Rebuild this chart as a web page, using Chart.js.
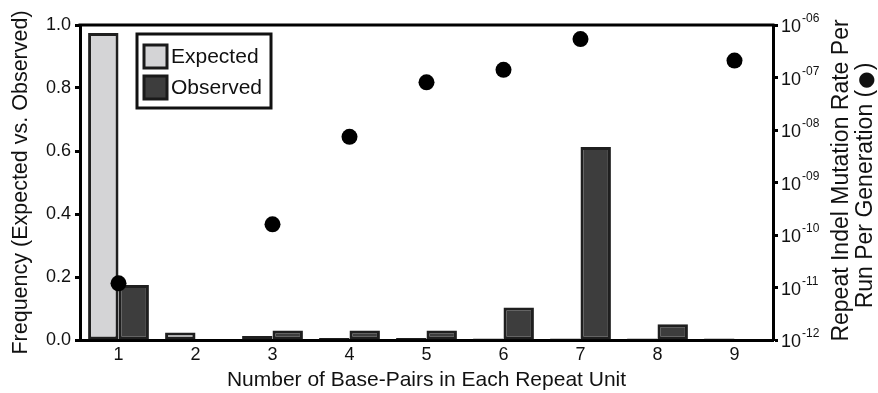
<!DOCTYPE html>
<html>
<head>
<meta charset="utf-8">
<script src="https://cdn.jsdelivr.net/npm/chart.js@4.4.1/dist/chart.umd.min.js"></script>
<style>
  html, body { margin: 0; padding: 0; background: #fff; }
  #wrap { width: 878px; height: 393px; position: relative; }
</style>
</head>
<body>
<div id="wrap"><canvas id="repeatChart"></canvas></div>
<script>
// categories: repeat unit length in base pairs
var unitLabels = ['1', '2', '3', '4', '5', '6', '7', '8', '9'];
// frequency of repeat units (left axis)
var expectedFreq = [0.975, 0.024, 0.013, 0.006, 0.006, 0.005, 0.005, 0.005, 0.005];
var observedFreq = [0.175, 0.0, 0.03, 0.03, 0.03, 0.103, 0.613, 0.05, 0.002];
// repeat indel mutation rate per run per generation (right axis, log)
var mutationRate = [1.2e-11, null, 1.6e-10, 7.4e-9, 8.1e-8, 1.4e-7, 5.4e-7, null, 2.1e-7];
// right axis tick exponents
var rateExps = [-12, -11, -10, -9, -8, -7, -6];
var leftTicks = [0, 0.2, 0.4, 0.6, 0.8, 1.0];

var FONT = '"Liberation Sans", Arial, sans-serif';

var framePlugin = {
  id: 'frame',
  afterDraw: function (chart) {
    var ctx = chart.ctx;
    var a = chart.chartArea;
    ctx.save();
    // top border of the box
    ctx.strokeStyle = '#000';
    ctx.lineWidth = 3;
    ctx.beginPath();
    ctx.moveTo(a.left - 1.5, a.top);
    ctx.lineTo(a.right + 1.5, a.top);
    ctx.stroke();

    // right axis labels 10^-xx
    var y2 = chart.scales.y2;
    ctx.fillStyle = '#111';
    ctx.textBaseline = 'alphabetic';
    ctx.textAlign = 'left';
    rateExps.forEach(function (e) {
      var py = y2.getPixelForValue(Math.pow(10, e));
      ctx.font = '18px ' + FONT;
      ctx.fillText('10', a.right + 8, py + 7);
      var w = ctx.measureText('10').width;
      ctx.font = '12px ' + FONT;
      var s = (e < 0 ? '-' : '') + ('0' + Math.abs(e)).slice(-2);
      ctx.fillText(s, a.right + 8 + w + 1, py - 3);
    });

    // axis titles
    ctx.fillStyle = '#111';
    ctx.textAlign = 'center';
    ctx.textBaseline = 'middle';
    ctx.font = '21px ' + FONT;
    ctx.fillText('Number of Base-Pairs in Each Repeat Unit', (a.left + a.right) / 2, 380);

    var cy = (a.top + a.bottom) / 2;
    ctx.save();
    ctx.translate(21, cy);
    ctx.rotate(-Math.PI / 2);
    ctx.font = '21.5px ' + FONT;
    ctx.fillText('Frequency (Expected vs. Observed)', 0, 0);
    ctx.restore();

    ctx.save();
    ctx.translate(842, cy - 2);
    ctx.rotate(-Math.PI / 2);
    ctx.font = '23px ' + FONT;
    ctx.fillText('Repeat Indel Mutation Rate Per', 0, 0);
    // second line: text with a large filled circle glyph
    var p1 = 'Run Per Generation (', p2 = '\u25CF', p3 = ')';
    var bigFont = '20px "DejaVu Sans", sans-serif';
    var w1 = ctx.measureText(p1).width;
    var w3 = ctx.measureText(p3).width;
    ctx.font = bigFont;
    var w2 = ctx.measureText(p2).width;
    var x0 = -(w1 + w2 + w3) / 2 - 6;
    ctx.textAlign = 'left';
    ctx.font = '23px ' + FONT;
    ctx.fillText(p1, x0, 24);
    ctx.font = bigFont;
    ctx.fillText(p2, x0 + w1 + 1, 25);
    ctx.font = '23px ' + FONT;
    ctx.fillText(p3, x0 + w1 + w2 + 2, 24);
    ctx.restore();

    // legend box
    var lx = 137, ly = 34, lw = 134, lh = 74;
    ctx.lineWidth = 3;
    ctx.strokeStyle = '#111';
    ctx.fillStyle = '#fff';
    ctx.fillRect(lx, ly, lw, lh);
    ctx.strokeRect(lx, ly, lw, lh);
    var items = [
      { text: 'Expected', fill: '#d4d4d6' },
      { text: 'Observed', fill: '#3d3d3d' }
    ];
    items.forEach(function (it, i) {
      var sy = ly + 11 + i * 31;
      ctx.fillStyle = it.fill;
      ctx.fillRect(144, sy, 23, 23);
      ctx.strokeStyle = '#1a1a1a';
      ctx.strokeRect(144, sy, 23, 23);
      ctx.fillStyle = '#111';
      ctx.textAlign = 'left';
      ctx.textBaseline = 'middle';
      ctx.font = '21px ' + FONT;
      ctx.fillText(it.text, 171, sy + 12);
    });
    ctx.restore();
  }
};

var ctx = document.getElementById('repeatChart').getContext('2d');
new Chart(ctx, {
  type: 'bar',
  data: {
    labels: unitLabels,
    datasets: [
      {
        type: 'line',
        label: 'Mutation rate',
        data: mutationRate,
        yAxisID: 'y2',
        showLine: false,
        pointRadius: 8,
        pointBackgroundColor: '#000',
        pointBorderColor: '#000',
        pointBorderWidth: 0,
        order: 0
      },
      {
        label: 'Expected',
        data: expectedFreq,
        yAxisID: 'y',
        backgroundColor: '#d4d4d6',
        borderColor: '#1f1f1f',
        borderWidth: 3,
        borderSkipped: false,
        categoryPercentage: 0.79,
        barPercentage: 1.0,
        order: 1
      },
      {
        label: 'Observed',
        data: observedFreq,
        yAxisID: 'y',
        backgroundColor: '#3d3d3d',
        borderColor: '#1f1f1f',
        borderWidth: 3,
        borderSkipped: false,
        categoryPercentage: 0.79,
        barPercentage: 1.0,
        order: 1
      }
    ]
  },
  options: {
    responsive: true,
    maintainAspectRatio: false,
    animation: false,
    layout: { padding: { top: 25, left: 0, right: 0, bottom: 0 } },
    plugins: {
      legend: { display: false },
      tooltip: { enabled: false }
    },
    scales: {
      x: {
        grid: { display: true, drawOnChartArea: false, drawTicks: false },
        border: { display: true, width: 3, color: '#000' },
        ticks: { color: '#111', font: { family: FONT, size: 18 }, padding: 4 },
        afterFit: function (s) { s.height = 53; }
      },
      y: {
        position: 'left',
        min: 0,
        max: 1,
        afterBuildTicks: function (s) {
          s.ticks = leftTicks.map(function (v) { return { value: v }; });
        },
        grid: { drawOnChartArea: false, drawTicks: true, tickLength: 5, tickWidth: 3, tickColor: '#000' },
        border: { display: true, width: 3, color: '#000' },
        ticks: {
          color: '#111',
          font: { family: FONT, size: 18 },
          padding: 4,
          callback: function (v) { return Number(v).toFixed(1); }
        },
        afterFit: function (s) { s.width = 80; }
      },
      y2: {
        type: 'logarithmic',
        position: 'right',
        min: 1e-12,
        max: 1e-6,
        afterBuildTicks: function (s) {
          s.ticks = rateExps.map(function (e) { return { value: Math.pow(10, e) }; });
        },
        grid: { drawOnChartArea: false, drawTicks: true, tickLength: 5, tickWidth: 3, tickColor: '#000' },
        border: { display: true, width: 3, color: '#000' },
        ticks: { callback: function () { return ''; } },
        afterFit: function (s) { s.width = 105; }
      }
    }
  },
  plugins: [framePlugin]
});
</script>
</body>
</html>
